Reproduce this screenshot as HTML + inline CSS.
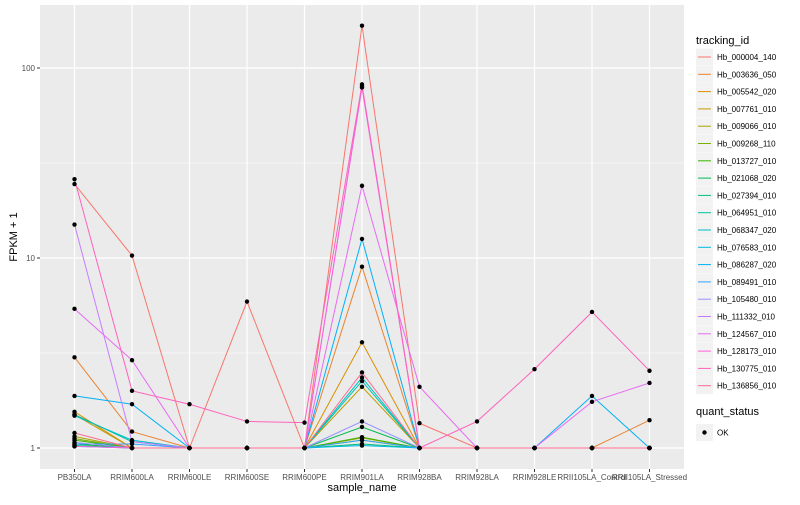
<!DOCTYPE html>
<html><head><meta charset="utf-8"><style>
body{margin:0;background:#fff;font-family:"Liberation Sans",sans-serif}
svg text{font-family:"Liberation Sans",sans-serif}
</style></head><body>
<svg id="c" width="800" height="500" xmlns="http://www.w3.org/2000/svg"></svg>
<script>
const categories=["PB350LA","RRIM600LA","RRIM600LE","RRIM600SE","RRIM600PE","RRIM901LA","RRIM928BA","RRIM928LA","RRIM928LE","RRII105LA_Control","RRII105LA_Stressed"];
const seriesNames=["Hb_000004_140","Hb_003636_050","Hb_005542_020","Hb_007761_010","Hb_009066_010","Hb_009268_110","Hb_013727_010","Hb_021068_020","Hb_027394_010","Hb_064951_010","Hb_068347_020","Hb_076583_010","Hb_086287_020","Hb_089491_010","Hb_105480_010","Hb_111332_010","Hb_124567_010","Hb_128173_010","Hb_130775_010","Hb_136856_010"];
const colors=["#F8766D","#EA8331","#D89000","#C09B00","#A3A500","#7CAE00","#39B600","#00BB4E","#00BF7D","#00C1A3","#00BFC4","#00BAE0","#00B0F6","#35A2FF","#9590FF","#C77CFF","#E76BF3","#FA62DB","#FF62BC","#FF6C91"];
const s0=[24.5,10.3,1,5.9,1,167,1.35,1,1,1,1];
const s1=[3.0,1.22,1,1,1,9,1,1,1,1,1.4];
const s2=[1.55,1,1,1,1,3.6,1,1,1,1,1];
const s3=[1.5,1,1,1,1,2.1,1,1,1,1,1];
const s4=[1.15,1,1,1,1,1.13,1,1,1,1,1];
const s5=[1.12,1,1,1,1,1.1,1,1,1,1,1];
const s6=[1.1,1,1,1,1,1.14,1,1,1,1,1];
const s7=[1.05,1,1,1,1,1.29,1,1,1,1,1];
const s8=[1.03,1,1,1,1,1.05,1,1,1,1,1];
const s9=[1.5,1.08,1,1,1,2.25,1,1,1,1,1];
const s10=[1.48,1.1,1,1,1,2.35,1,1,1,1,1];
const s11=[1.02,1,1,1,1,1.03,1,1,1,1,1];
const s12=[1.88,1.7,1,1,1,12.6,1,1,1,1.88,1];
const s13=[1.05,1.05,1,1,1,1.1,1,1,1,1,1];
const s14=[1.07,1,1,1,1,1.38,1,1,1,1,1];
const s15=[15,1.08,1,1,1,79,1,1,1,1,1];
const s16=[5.4,2.9,1,1,1,24,2.1,1,1,1.75,2.2];
const s17=[1.02,1,1,1,1,80,1,1,1,1,1];
const s18=[26,2.0,1.7,1.38,1.36,82,1,1.38,2.6,5.2,2.55];
const s19=[1.2,1,1,1,1,2.5,1,1,1,1,1];
const values=[s0,s1,s2,s3,s4,s5,s6,s7,s8,s9,s10,s11,s12,s13,s14,s15,s16,s17,s18,s19];
const yTicks=[1,10,100];
const yMinor=[3.1623,31.623];

const NS="http://www.w3.org/2000/svg";
const svg=document.getElementById('c');
function mk(t,a,p){const e=document.createElementNS(NS,t);for(const k in a)e.setAttribute(k,a[k]);(p||svg).appendChild(e);return e;}
const PL=40,PR=684,PT=5,PB=469;
const step=(PR-PL)/(categories.length+0.2);
function xS(i){return PL+(i+0.6)*step;}
function yS(v){return 448-Math.log10(v)*190;}

const panel=mk('rect',{x:PL,y:PT,width:PR-PL,height:PB-PT,fill:'#EBEBEB'});


yMinor.forEach(v=>{const l=mk('line',{x1:PL,x2:PR,y1:yS(v),y2:yS(v),stroke:'#fff','stroke-width':0.6});

});
yTicks.forEach(v=>{const y=yS(v);
const l=mk('line',{x1:PL,x2:PR,y1:y,y2:y,stroke:'#fff','stroke-width':1.2});


mk('line',{x1:PL-3,x2:PL,y1:y,y2:y,stroke:'#333','stroke-width':1});
const t=mk('text',{x:PL-5,y:y+3,'text-anchor':'end','font-size':8,fill:'#4D4D4D'});t.textContent=v;

});
categories.forEach((c,i)=>{const x=xS(i);
const l=mk('line',{x1:x,x2:x,y1:PT,y2:PB,stroke:'#fff','stroke-width':1.2});


mk('line',{x1:x,x2:x,y1:PB,y2:PB+3,stroke:'#333','stroke-width':1});
const t=mk('text',{x:x,y:PB+11,'text-anchor':'middle','font-size':8,fill:'#4D4D4D'});t.textContent=c;

});
values.forEach((arr,s)=>{const p=mk('polyline',{points:arr.map((v,i)=>xS(i)+','+yS(v)).join(' '),fill:'none',stroke:colors[s],'stroke-width':1});

});
values.forEach((arr,s)=>{arr.forEach((v,i)=>{const c=mk('circle',{cx:xS(i),cy:yS(v),r:2.2,fill:'#000'});

});});
let t=mk('text',{x:(PL+PR)/2,y:491,'text-anchor':'middle','font-size':11,fill:'#000'});t.textContent='sample_name';


t=mk('text',{x:17,y:(PT+PB)/2,'text-anchor':'middle','font-size':11,fill:'#000',transform:'rotate(-90 17 '+((PT+PB)/2)+')'});t.textContent='FPKM + 1';


t=mk('text',{x:696,y:44,'font-size':11,fill:'#000'});t.textContent='tracking_id';


seriesNames.forEach((n,i)=>{const cy=57+i*17.3;
const g=mk('g',{});


mk('rect',{x:696,y:cy-8.5,width:17,height:17,fill:'#F2F2F2'},g);
mk('line',{x1:698,x2:711,y1:cy,y2:cy,stroke:colors[i],'stroke-width':1},g);
const tt=mk('text',{x:717,y:cy+3,'font-size':8,fill:'#000'},g);tt.textContent=n;});
t=mk('text',{x:696,y:415,'font-size':11,fill:'#000'});t.textContent='quant_status';


const g2=mk('g',{});


mk('rect',{x:696,y:424,width:17,height:17,fill:'#F2F2F2'},g2);
mk('circle',{cx:704.5,cy:432.5,r:2.2,fill:'#000'},g2);
const ok=mk('text',{x:717,y:435.5,'font-size':8,fill:'#000'},g2);ok.textContent='OK';
</script>
</body></html>
